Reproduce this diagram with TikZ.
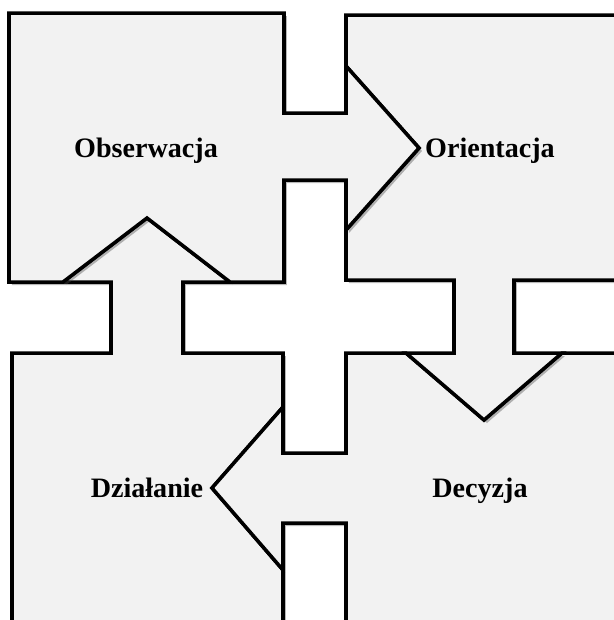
\documentclass[tikz,border=0pt]{standalone}
\usepackage{fontspec}
\setmainfont{Liberation Serif}
\usetikzlibrary{shadows}

\begin{document}
\begin{tikzpicture}[
    x=0.02cm, y=-0.02cm,
    zone/.style={draw=black, fill=black!5, line width=2pt, line join=miter,
        drop shadow={shadow xshift=0.06cm, shadow yshift=-0.06cm, opacity=0.4, fill=black!70}},
    lbl/.style={font=\fontsize{16}{19}\selectfont\bfseries, inner sep=0pt, anchor=base}
]
\useasboundingbox (0,0) rectangle (614,620);
\clip (0,0) rectangle (614,620);

% Dzialanie (arrow up into Obserwacja)
\path[zone] (12,353) -- (111,353) -- (111,282) -- (63,282) -- (147,218) -- (230,282)
    -- (183,282) -- (183,353) -- (283,353) -- (283,407) -- (212,488) -- (283,570)
    -- (283,650) -- (12,650) -- cycle;
% Decyzja (arrow left into Dzialanie)
\path[zone] (346,353) -- (406,353) -- (484,420) -- (562,353) -- (650,353) -- (650,650)
    -- (346,650) -- (346,523) -- (283,523) -- (283,570) -- (212,488) -- (283,407)
    -- (283,453) -- (346,453) -- cycle;
% Orientacja (arrow down into Decyzja)
\path[zone] (346,15) -- (650,15) -- (650,280) -- (514,280) -- (514,353) -- (562,353)
    -- (484,420) -- (406,353) -- (454,353) -- (454,280) -- (346,280) -- (346,230)
    -- (419,148) -- (346,66) -- cycle;
% Obserwacja (arrow right into Orientacja)
\path[zone] (9,13) -- (284,13) -- (284,113) -- (346,113) -- (346,66) -- (419,148)
    -- (346,230) -- (346,180) -- (284,180) -- (284,282) -- (230,282) -- (147,218)
    -- (63,282) -- (9,282) -- cycle;

\node[lbl] (obs) at (146,157) {Obserwacja};
\node[lbl] (ori) at (490,157) {Orientacja};
\node[lbl] (dec) at (480,497) {Decyzja};
\node[lbl] (dzi) at (147,497) {Działanie};
\end{tikzpicture}
\end{document}
